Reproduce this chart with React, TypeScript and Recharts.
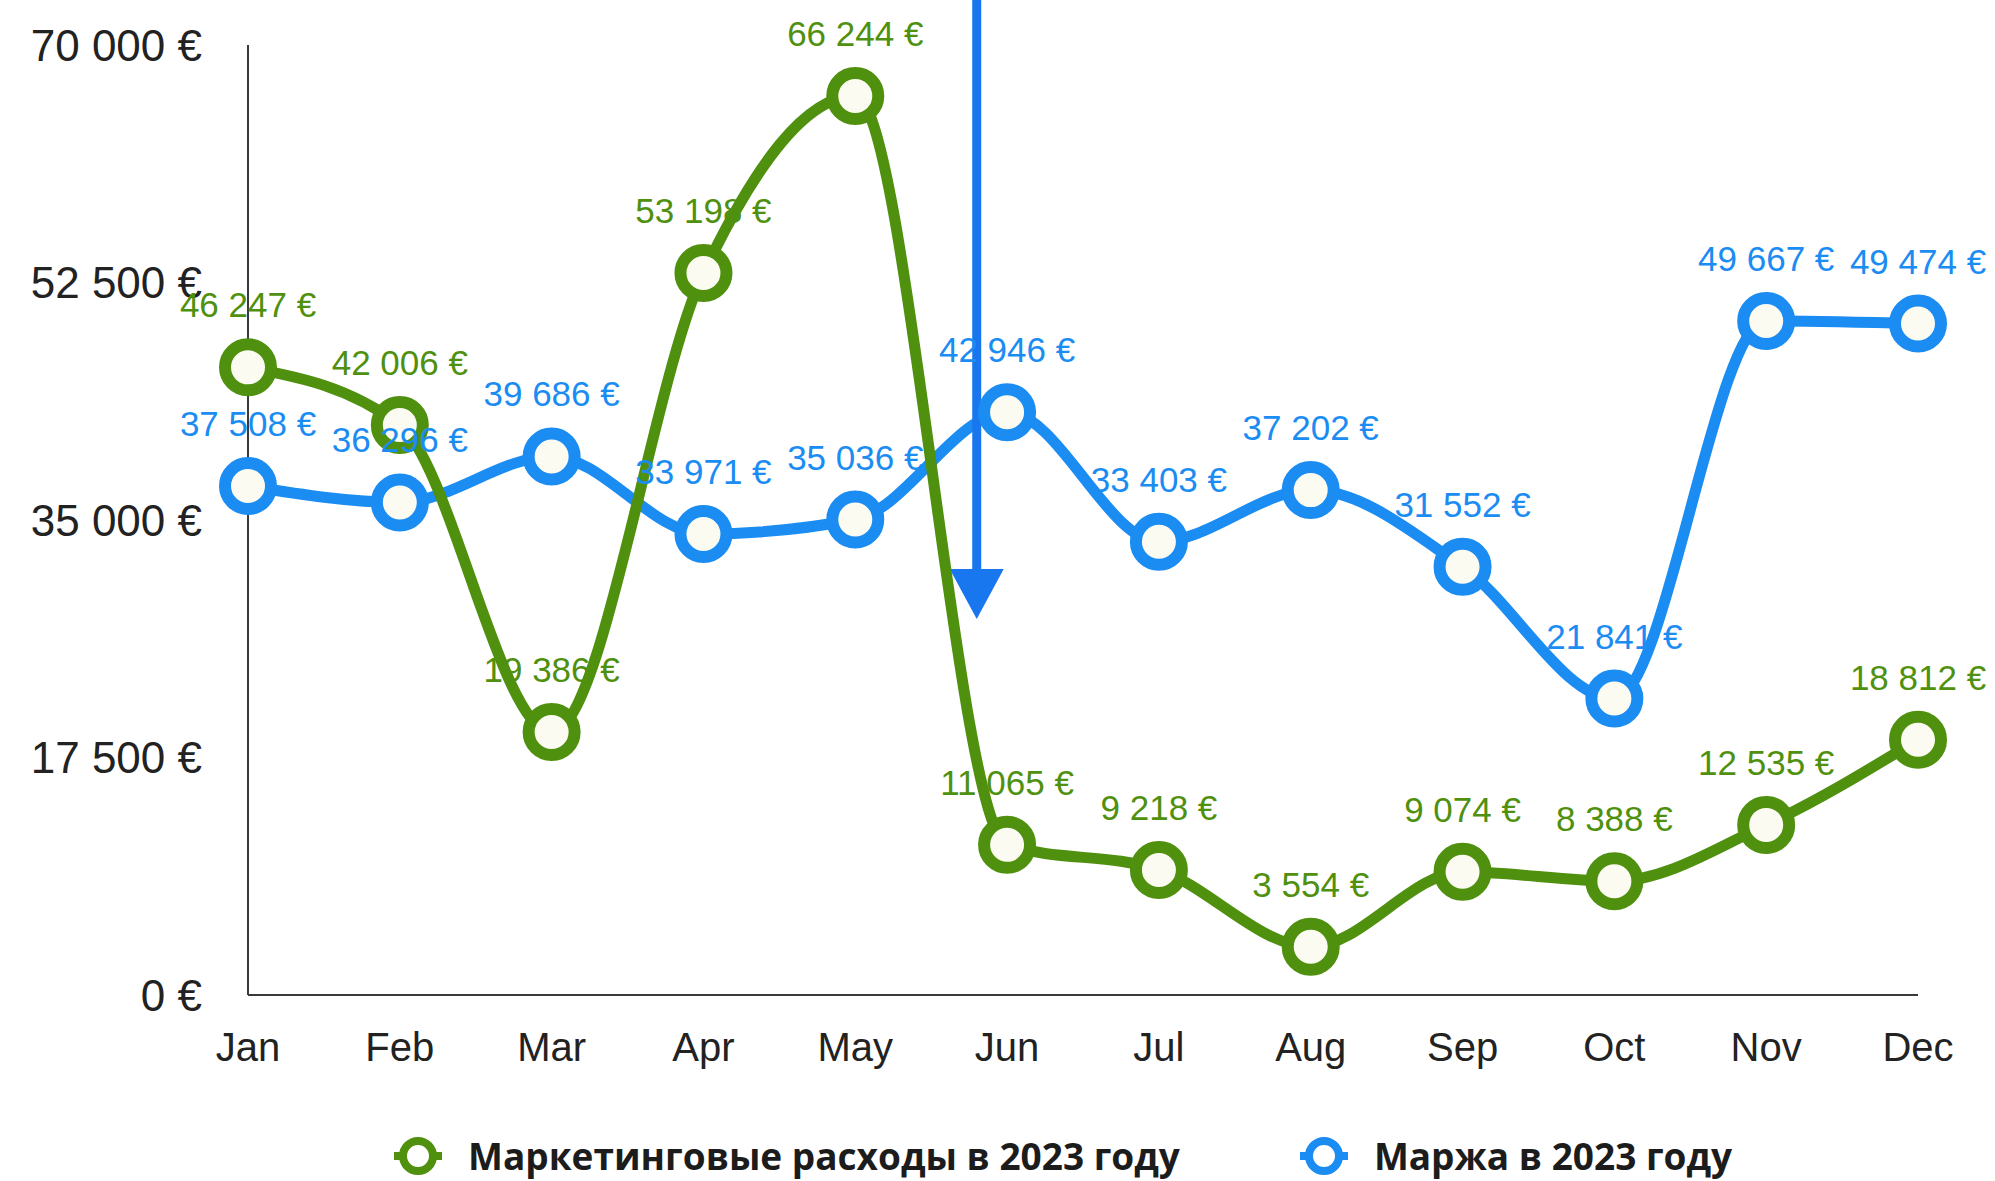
import {
  LineChart,
  Line,
  XAxis,
  YAxis,
  LabelList,
  Legend,
  ReferenceLine,
} from "recharts";

const months = ["Jan", "Feb", "Mar", "Apr", "May", "Jun", "Jul", "Aug", "Sep", "Oct", "Nov", "Dec"];
const marketing = [46247, 42006, 19386, 53198, 66244, 11065, 9218, 3554, 9074, 8388, 12535, 18812];
const margin = [37508, 36296, 39686, 33971, 35036, 42946, 33403, 37202, 31552, 21841, 49667, 49474];
const yTicks = [0, 17500, 35000, 52500, 70000];

const seriesNames = ["Маркетинговые расходы в 2023 году", "Маржа в 2023 году"];

// annotation arrow, in month-index units / euro units
const arrowX = 4.8;
const arrowTop = 74000;
const arrowTip = 27700;

const GREEN = "#4f900e";
const BLUE = "#1a8cf2";
const ARROW = "#1877ef";
const DOT_FILL = "#fbfbf2";

const data = months.map((m, i) => ({ month: m, marketing: marketing[i], margin: margin[i] }));

const euro = (v: number) => String(v).replace(/\B(?=(\d{3})+(?!\d))/g, " ") + " €";

const ArrowShape = (p: any) => {
  const { x1, y1, x2, y2 } = p;
  const head = 50;
  return (
    <g>
      <line x1={x1} y1={y1} x2={x2} y2={y2 - head + 2} stroke={ARROW} strokeWidth={9} />
      <polygon
        points={`${x2 - 27},${y2 - head} ${x2 + 27},${y2 - head} ${x2},${y2}`}
        fill={ARROW}
      />
    </g>
  );
};

const LegendContent = () => {
  const items = [
    { name: seriesNames[0], color: GREEN },
    { name: seriesNames[1], color: BLUE },
  ];
  return (
    <div style={{ display: "flex", alignItems: "center", gap: 116, paddingLeft: 390 }}>
      {items.map((it) => (
        <div key={it.name} style={{ display: "flex", alignItems: "center", gap: 22 }}>
          <svg width={56} height={44}>
            <line x1={4} y1={22} x2={52} y2={22} stroke={it.color} strokeWidth={8} />
            <circle cx={28} cy={22} r={15} fill="#fff" stroke={it.color} strokeWidth={8} />
          </svg>
          <span
            style={{
              fontFamily: "'Open Sans', sans-serif",
              fontWeight: 700,
              fontSize: 37,
              lineHeight: "44px",
              color: "#1c1c1c",
              whiteSpace: "nowrap",
            }}
          >
            {it.name}
          </span>
        </div>
      ))}
    </div>
  );
};

const labelStyle = { fontSize: 35, fontFamily: "'Liberation Sans', Arial, sans-serif" };

export default function App() {
  return (
    <div style={{ position: "absolute", left: 0, top: 0, width: 1995, height: 1181, background: "#fff" }}>
      <LineChart
        width={1995}
        height={1181}
        data={data}
        margin={{ top: 45, right: 77, bottom: 106, left: 0 }}
      >
        <XAxis
          dataKey="month"
          height={80}
          tickLine={false}
          axisLine={{ stroke: "#3a3a3a", strokeWidth: 2 }}
          tick={{ fill: "#222", fontSize: 40, fontFamily: "'Liberation Sans', Arial, sans-serif" }}
          tickMargin={32}
        />
        <XAxis xAxisId="num" type="number" domain={[0, 11]} hide />
        <YAxis
          width={248}
          domain={[0, 70000]}
          ticks={yTicks}
          tickFormatter={euro}
          tickLine={false}
          axisLine={{ stroke: "#3a3a3a", strokeWidth: 2 }}
          tick={{ fill: "#222", fontSize: 44, fontFamily: "'Liberation Sans', Arial, sans-serif" }}
          tickMargin={40}
        />
        <Legend
          layout="horizontal"
          verticalAlign="middle"
          align="center"
          content={<LegendContent />}
          wrapperStyle={{ top: 1134, left: 0, width: 1995 }}
        />
        {/* value labels first so the lines sit above them */}
        <Line dataKey="margin" stroke="none" dot={false} activeDot={false} legendType="none" isAnimationActive={false}>
          <LabelList dataKey="margin" position="top" offset={50} formatter={euro} fill={BLUE} style={labelStyle} />
        </Line>
        <Line dataKey="marketing" stroke="none" dot={false} activeDot={false} legendType="none" isAnimationActive={false}>
          <LabelList dataKey="marketing" position="top" offset={50} formatter={euro} fill={GREEN} style={labelStyle} />
        </Line>
        <Line
          type="monotone"
          dataKey="margin"
          name={seriesNames[1]}
          stroke={BLUE}
          strokeWidth={11}
          dot={{ r: 23, strokeWidth: 12, fill: DOT_FILL, stroke: BLUE }}
          activeDot={false}
          isAnimationActive={false}
        />
        <ReferenceLine
          xAxisId="num"
          segment={[
            { x: arrowX, y: arrowTop },
            { x: arrowX, y: arrowTip },
          ]}
          ifOverflow="visible"
          shape={ArrowShape}
        />
        <Line
          type="monotone"
          dataKey="marketing"
          name={seriesNames[0]}
          stroke={GREEN}
          strokeWidth={11}
          dot={{ r: 23, strokeWidth: 12, fill: DOT_FILL, stroke: GREEN }}
          activeDot={false}
          isAnimationActive={false}
        />
      </LineChart>
    </div>
  );
}
